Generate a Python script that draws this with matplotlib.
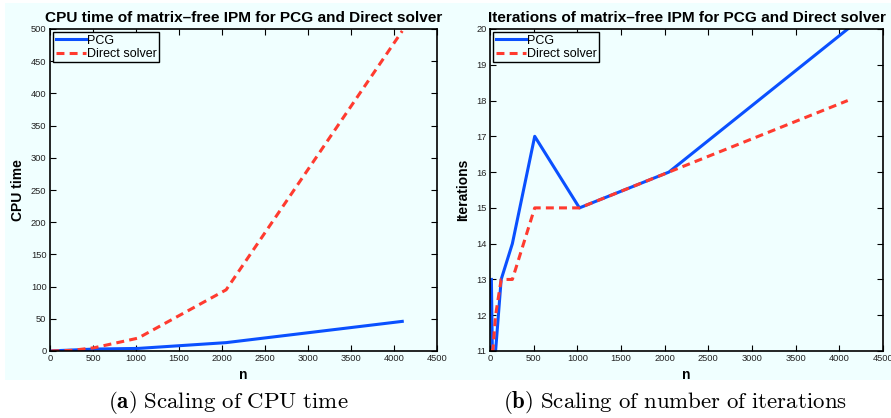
import numpy as np
import matplotlib
matplotlib.use('Agg')
from matplotlib import pyplot as plt
from matplotlib.patches import Rectangle

plt.rcParams['font.family'] = ['Liberation Sans', 'DejaVu Sans']
plt.rcParams['mathtext.fontset'] = 'cm'

n = [16, 32, 64, 128, 256, 512, 1024, 2048, 4096]
cpu_pcg = [0.1, 0.2, 0.4, 0.8, 1.5, 3, 4, 13, 46]
cpu_direct = [0.05, 0.1, 0.2, 0.4, 1, 5, 20, 95, 497]
it_pcg = [13, 10, 11, 13, 14, 17, 15, 16, 20]
it_direct = [11, 11, 12, 13, 13, 15, 15, 16, 18]

bg = '#f0ffff'
blue = '#0a50ff'
red = '#ff3b2f'
dash = (0, (2.6, 1.7))

fig = plt.figure(figsize=(8.91, 4.18), dpi=100)
W, H = 891.0, 418.0
fig.patches.append(Rectangle((5 / W, 1 - 380 / H), 1, (380 - 3) / H,
                             transform=fig.transFigure, facecolor=bg,
                             edgecolor='none', zorder=-10))

ax1 = fig.add_axes([50 / W, 1 - 351 / H, 387 / W, 322 / H])
ax2 = fig.add_axes([490 / W, 1 - 351 / H, 393 / W, 322 / H])

def style(ax):
    ax.set_facecolor(bg)
    ax.set_xlim(0, 4500)
    ax.set_xticks(np.arange(0, 4501, 500))
    ax.tick_params(direction='in', top=True, right=True, labelsize=6.7,
                   length=4, width=0.8, pad=2.5, labelcolor='#222222')
    for s in ax.spines.values():
        s.set_linewidth(1.2)
    ax.set_xlabel('n', fontsize=10, fontweight='bold', labelpad=3)

ax1.plot(n, cpu_pcg, color=blue, lw=2.2, label='PCG')
ax1.plot(n, cpu_direct, color=red, lw=2.2, ls=dash, label='Direct solver')
style(ax1)
ax1.set_ylim(0, 500)
ax1.set_yticks(np.arange(0, 501, 50))
ax1.set_ylabel('CPU time', fontsize=10, fontweight='bold', labelpad=4)
ax1.set_title('CPU time of matrix\u2013free IPM for PCG and Direct solver',
              fontsize=11.1, fontweight='bold', pad=5)

ax2.plot(n, it_pcg, color=blue, lw=2.2, label='PCG')
ax2.plot(n, it_direct, color=red, lw=2.2, ls=dash, label='Direct solver')
style(ax2)
ax2.set_ylim(11, 20)
ax2.set_yticks(np.arange(11, 21, 1))
ax2.set_ylabel('Iterations', fontsize=10, fontweight='bold', labelpad=4)
ax2.set_title('Iterations of matrix\u2013free IPM for PCG and Direct solver',
              fontsize=11.1, fontweight='bold', pad=5)

for ax in (ax1, ax2):
    leg = ax.legend(loc='upper left', fontsize=9, frameon=True, fancybox=False,
                    borderaxespad=0.25, handlelength=2.4, handletextpad=0.1,
                    borderpad=0.2, labelspacing=0.1)
    leg.get_frame().set_edgecolor('black')
    leg.get_frame().set_facecolor(bg)
    leg.get_frame().set_alpha(1)
    leg.get_frame().set_linewidth(1.0)

fig.text(228 / W, 1 - 403 / H, r'$\mathbf{(a)}\ \mathrm{Scaling\ of\ CPU\ time}$',
         ha='center', va='center', fontsize=16.5)
fig.text(675 / W, 1 - 403 / H, r'$\mathbf{(b)}\ \mathrm{Scaling\ of\ number\ of\ iterations}$',
         ha='center', va='center', fontsize=16.5)

fig.savefig('out.png', dpi=100, facecolor='white')
